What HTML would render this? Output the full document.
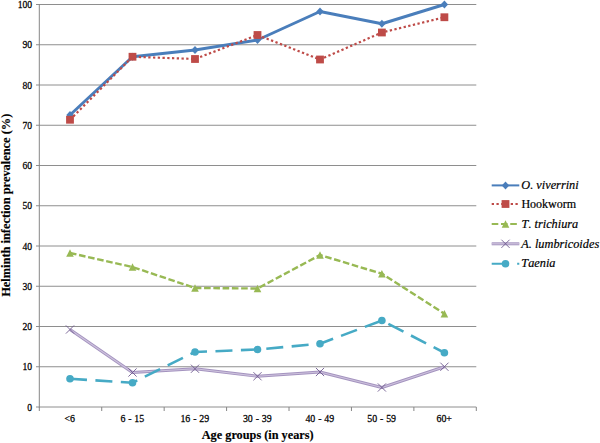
<!DOCTYPE html>
<html><head><meta charset="utf-8"><title>Chart</title>
<style>
html,body{margin:0;padding:0;background:#fff;}
body{width:600px;height:443px;overflow:hidden;font-family:"Liberation Serif",serif;}
svg{display:block}
.t{font-family:"Liberation Serif",serif;font-size:10.7px;fill:#000;stroke:#000;stroke-width:0.25px;}
.x{word-spacing:0.4px}
.l{font-family:"Liberation Serif",serif;font-kerning:none;font-size:12.3px;fill:#000;stroke:#000;stroke-width:0.2px;}
.i{font-style:italic}
.b{font-family:"Liberation Serif",serif;font-size:12.4px;font-weight:bold;fill:#000;stroke:#000;stroke-width:0.15px;}
</style></head><body>
<svg width="600" height="443" viewBox="0 0 600 443">
<rect width="600" height="443" fill="#ffffff"/>
<line x1="36" y1="4.5" x2="476.3" y2="4.5" stroke="#8e8e8e" stroke-width="1"/>
<line x1="36" y1="44.75" x2="476.3" y2="44.75" stroke="#8e8e8e" stroke-width="1"/>
<line x1="36" y1="85.0" x2="476.3" y2="85.0" stroke="#8e8e8e" stroke-width="1"/>
<line x1="36" y1="125.25" x2="476.3" y2="125.25" stroke="#8e8e8e" stroke-width="1"/>
<line x1="36" y1="165.5" x2="476.3" y2="165.5" stroke="#8e8e8e" stroke-width="1"/>
<line x1="36" y1="205.75" x2="476.3" y2="205.75" stroke="#8e8e8e" stroke-width="1"/>
<line x1="36" y1="246.0" x2="476.3" y2="246.0" stroke="#8e8e8e" stroke-width="1"/>
<line x1="36" y1="286.25" x2="476.3" y2="286.25" stroke="#8e8e8e" stroke-width="1"/>
<line x1="36" y1="326.5" x2="476.3" y2="326.5" stroke="#8e8e8e" stroke-width="1"/>
<line x1="36" y1="366.75" x2="476.3" y2="366.75" stroke="#8e8e8e" stroke-width="1"/>
<line x1="36" y1="407.0" x2="476.3" y2="407.0" stroke="#8e8e8e" stroke-width="1"/>

<line x1="39.3" y1="4" x2="39.3" y2="407.5" stroke="#868686" stroke-width="1"/>
<line x1="39.3" y1="407" x2="39.3" y2="411" stroke="#868686" stroke-width="1"/>
<line x1="101.72999999999999" y1="407" x2="101.72999999999999" y2="411" stroke="#868686" stroke-width="1"/>
<line x1="164.16" y1="407" x2="164.16" y2="411" stroke="#868686" stroke-width="1"/>
<line x1="226.58999999999997" y1="407" x2="226.58999999999997" y2="411" stroke="#868686" stroke-width="1"/>
<line x1="289.02" y1="407" x2="289.02" y2="411" stroke="#868686" stroke-width="1"/>
<line x1="351.45" y1="407" x2="351.45" y2="411" stroke="#868686" stroke-width="1"/>
<line x1="413.88" y1="407" x2="413.88" y2="411" stroke="#868686" stroke-width="1"/>
<line x1="476.31" y1="407" x2="476.31" y2="411" stroke="#868686" stroke-width="1"/>

<text transform="translate(32.1,8.1) scale(0.9,1.03)" text-anchor="end" class="t">100</text>
<text transform="translate(32.1,48.35) scale(0.9,1.03)" text-anchor="end" class="t">90</text>
<text transform="translate(32.1,88.6) scale(0.9,1.03)" text-anchor="end" class="t">80</text>
<text transform="translate(32.1,128.85) scale(0.9,1.03)" text-anchor="end" class="t">70</text>
<text transform="translate(32.1,169.1) scale(0.9,1.03)" text-anchor="end" class="t">60</text>
<text transform="translate(32.1,209.35) scale(0.9,1.03)" text-anchor="end" class="t">50</text>
<text transform="translate(32.1,249.6) scale(0.9,1.03)" text-anchor="end" class="t">40</text>
<text transform="translate(32.1,289.85) scale(0.9,1.03)" text-anchor="end" class="t">30</text>
<text transform="translate(32.1,330.1) scale(0.9,1.03)" text-anchor="end" class="t">20</text>
<text transform="translate(32.1,370.35) scale(0.9,1.03)" text-anchor="end" class="t">10</text>
<text transform="translate(32.1,410.6) scale(0.9,1.03)" text-anchor="end" class="t">0</text>

<text transform="translate(69.8,422.3) scale(0.925,1.04)" text-anchor="middle" class="t x">&lt;6</text>
<text transform="translate(132.3,422.3) scale(0.925,1.04)" text-anchor="middle" class="t x">6 - 15</text>
<text transform="translate(194.8,422.3) scale(0.925,1.04)" text-anchor="middle" class="t x">16 - 29</text>
<text transform="translate(257.3,422.3) scale(0.925,1.04)" text-anchor="middle" class="t x">30 - 39</text>
<text transform="translate(319.8,422.3) scale(0.925,1.04)" text-anchor="middle" class="t x">40 - 49</text>
<text transform="translate(381.7,422.3) scale(0.925,1.04)" text-anchor="middle" class="t x">50 - 59</text>
<text transform="translate(444.2,422.3) scale(0.925,1.04)" text-anchor="middle" class="t x">60+</text>

<text transform="translate(9.6,205.25) rotate(-90)" text-anchor="middle" class="b">Helminth infection prevalence (%)</text>
<text transform="translate(257.7,439.0) scale(0.99,1)" text-anchor="middle" class="b">Age groups (in years)</text>

<polyline points="70,115 132.5,56.75 195,50 257.5,40 320,11.5 381.9,23.75 444.4,4.5" fill="none" stroke="#4A7EBB" stroke-width="2.9" stroke-linejoin="round"/>
<path d="M66.3,115 L70,111.0 L73.7,115 L70,119.0 Z" fill="#4A7EBB"/>
<path d="M128.8,56.75 L132.5,52.75 L136.2,56.75 L132.5,60.75 Z" fill="#4A7EBB"/>
<path d="M191.3,50 L195,46.0 L198.7,50 L195,54.0 Z" fill="#4A7EBB"/>
<path d="M253.8,40 L257.5,36.0 L261.2,40 L257.5,44.0 Z" fill="#4A7EBB"/>
<path d="M316.3,11.5 L320,7.5 L323.7,11.5 L320,15.5 Z" fill="#4A7EBB"/>
<path d="M378.2,23.75 L381.9,19.75 L385.59999999999997,23.75 L381.9,27.75 Z" fill="#4A7EBB"/>
<path d="M440.7,4.5 L444.4,0.5 L448.09999999999997,4.5 L444.4,8.5 Z" fill="#4A7EBB"/>
<polyline points="70,119.75 132.5,56.75 195,59 257.5,35 320,59.5 381.9,32.5 444.4,17.25" fill="none" stroke="#BE4B48" stroke-width="2.2" stroke-dasharray="2.3 2.45" stroke-linejoin="round"/>
<rect x="66.1" y="115.85" width="7.8" height="7.8" fill="#BE4B48"/>
<rect x="128.6" y="52.85" width="7.8" height="7.8" fill="#BE4B48"/>
<rect x="191.1" y="55.1" width="7.8" height="7.8" fill="#BE4B48"/>
<rect x="253.6" y="31.1" width="7.8" height="7.8" fill="#BE4B48"/>
<rect x="316.1" y="55.6" width="7.8" height="7.8" fill="#BE4B48"/>
<rect x="378.0" y="28.6" width="7.8" height="7.8" fill="#BE4B48"/>
<rect x="440.5" y="13.35" width="7.8" height="7.8" fill="#BE4B48"/>
<polyline points="70,253 132.5,267 195,288 257.5,288.5 320,255 381.9,273.75 444.4,313.75" fill="none" stroke="#98B954" stroke-width="2.4" stroke-dasharray="6.6 2.67" stroke-linejoin="round"/>
<path d="M66.2,256.8 L70,249.2 L73.8,256.8 Z" fill="#98B954"/>
<path d="M128.7,270.8 L132.5,263.2 L136.3,270.8 Z" fill="#98B954"/>
<path d="M191.2,291.8 L195,284.2 L198.8,291.8 Z" fill="#98B954"/>
<path d="M253.7,292.3 L257.5,284.7 L261.3,292.3 Z" fill="#98B954"/>
<path d="M316.2,258.8 L320,251.2 L323.8,258.8 Z" fill="#98B954"/>
<path d="M378.09999999999997,277.55 L381.9,269.95 L385.7,277.55 Z" fill="#98B954"/>
<path d="M440.59999999999997,317.55 L444.4,309.95 L448.2,317.55 Z" fill="#98B954"/>
<polyline points="70,329.5 132.5,372.5 195,368.75 257.5,376.25 320,372 381.9,387.5 444.4,366.75" fill="none" stroke="#A493BF" stroke-width="3" stroke-linejoin="round"/>
<polyline points="70,329.5 132.5,372.5 195,368.75 257.5,376.25 320,372 381.9,387.5 444.4,366.75" fill="none" stroke="#CDC2DD" stroke-width="1.2" stroke-linejoin="round"/>
<path d="M65.9,325.4 L74.1,333.6 M65.9,333.6 L74.1,325.4" stroke="#6F5A8E" stroke-width="0.9" fill="none"/>
<path d="M128.4,368.4 L136.6,376.6 M128.4,376.6 L136.6,368.4" stroke="#6F5A8E" stroke-width="0.9" fill="none"/>
<path d="M190.9,364.65 L199.1,372.85 M190.9,372.85 L199.1,364.65" stroke="#6F5A8E" stroke-width="0.9" fill="none"/>
<path d="M253.4,372.15 L261.6,380.35 M253.4,380.35 L261.6,372.15" stroke="#6F5A8E" stroke-width="0.9" fill="none"/>
<path d="M315.9,367.9 L324.1,376.1 M315.9,376.1 L324.1,367.9" stroke="#6F5A8E" stroke-width="0.9" fill="none"/>
<path d="M377.79999999999995,383.4 L386.0,391.6 M377.79999999999995,391.6 L386.0,383.4" stroke="#6F5A8E" stroke-width="0.9" fill="none"/>
<path d="M440.29999999999995,362.65 L448.5,370.85 M440.29999999999995,370.85 L448.5,362.65" stroke="#6F5A8E" stroke-width="0.9" fill="none"/>
<polyline points="70,378.75 132.5,382.75 195,352 257.5,349.5 320,343.75 381.9,320.5 444.4,352.75" fill="none" stroke="#46AAC5" stroke-width="2.6" stroke-dasharray="17 8.46" stroke-linejoin="round"/>
<circle cx="70" cy="378.75" r="3.8" fill="#46AAC5"/>
<circle cx="132.5" cy="382.75" r="3.8" fill="#46AAC5"/>
<circle cx="195" cy="352" r="3.8" fill="#46AAC5"/>
<circle cx="257.5" cy="349.5" r="3.8" fill="#46AAC5"/>
<circle cx="320" cy="343.75" r="3.8" fill="#46AAC5"/>
<circle cx="381.9" cy="320.5" r="3.8" fill="#46AAC5"/>
<circle cx="444.4" cy="352.75" r="3.8" fill="#46AAC5"/>

<line x1="491.7" y1="185.4" x2="519.3" y2="185.4" stroke="#4A7EBB" stroke-width="2"/>
<path d="M501.8,185.4 L505.5,181.4 L509.2,185.4 L505.5,189.4 Z" fill="#4A7EBB"/>
<line x1="491.7" y1="204" x2="519.3" y2="204" stroke="#BE4B48" stroke-width="2" stroke-dasharray="2.3 2.45"/>
<rect x="501.6" y="200.1" width="7.8" height="7.8" fill="#BE4B48"/>
<line x1="491.7" y1="224" x2="519.3" y2="224" stroke="#98B954" stroke-width="2" stroke-dasharray="6.6 2.67"/>
<path d="M501.7,227.8 L505.5,220.2 L509.3,227.8 Z" fill="#98B954"/>
<line x1="491.7" y1="243.8" x2="519.3" y2="243.8" stroke="#A493BF" stroke-width="3"/>
<line x1="491.7" y1="243.8" x2="519.3" y2="243.8" stroke="#CDC2DD" stroke-width="1.2"/>
<path d="M501.4,239.70000000000002 L509.6,247.9 M501.4,247.9 L509.6,239.70000000000002" stroke="#6F5A8E" stroke-width="0.9" fill="none"/>
<line x1="491.7" y1="263.7" x2="519.3" y2="263.7" stroke="#46AAC5" stroke-width="2" stroke-dasharray="17 8.46"/>
<circle cx="505.5" cy="263.7" r="3.8" fill="#46AAC5"/>
<text x="521.3" y="189.4" class="l i">O. viverrini</text>
<text x="521.4" y="208" class="l" textLength="54.8" lengthAdjust="spacingAndGlyphs">Hookworm</text>
<text x="521.6" y="228" class="l i" textLength="56.6" lengthAdjust="spacingAndGlyphs">T. trichiura</text>
<text x="521.3" y="247.5" class="l i">A. lumbricoides</text>
<text x="521.3" y="267.2" class="l i">Taenia</text>

</svg>
</body></html>
